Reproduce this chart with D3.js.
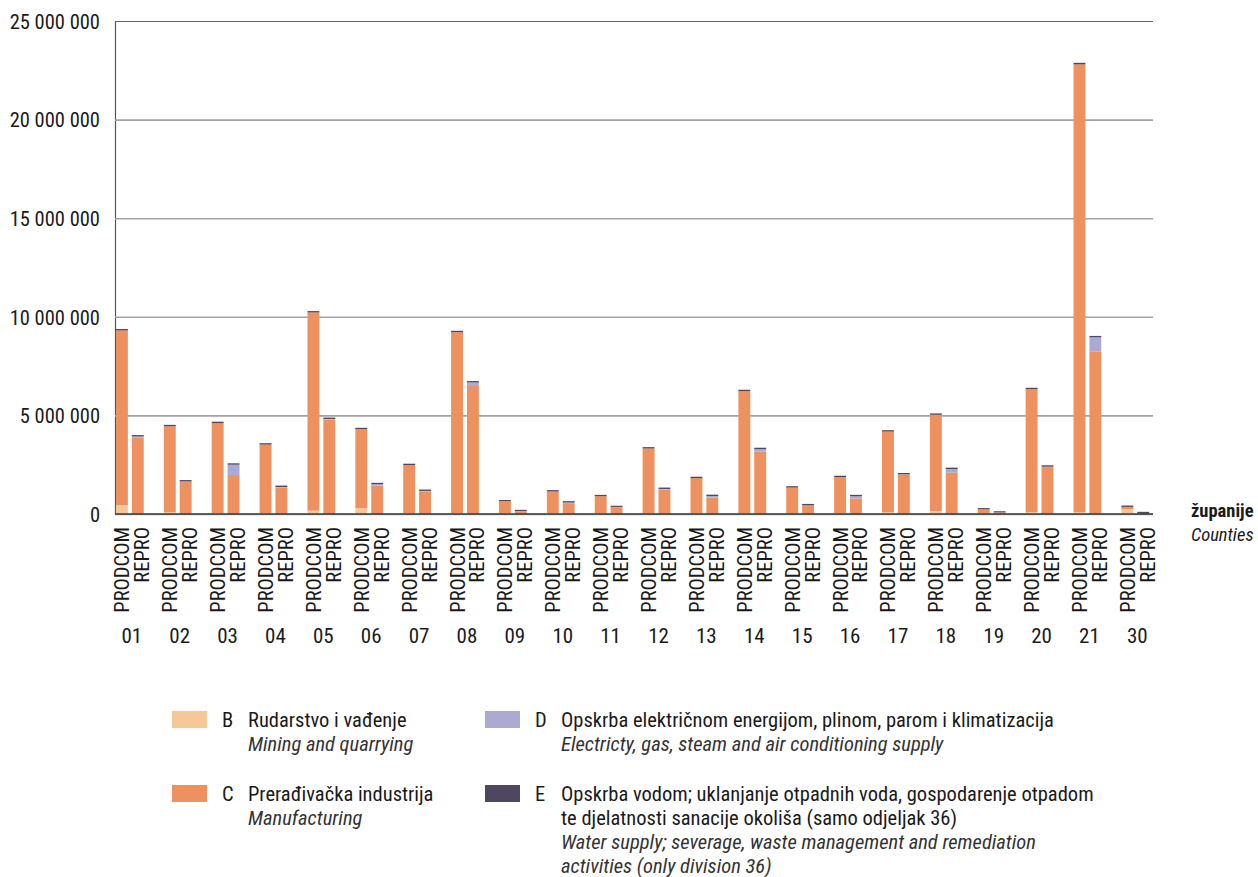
<!DOCTYPE html>
<html>
<head>
<meta charset="utf-8">
<script src="https://cdn.jsdelivr.net/npm/d3@7"></script>
<style>
  body { margin: 0; background: #fff; }
  svg text { font-family: "Roboto Condensed", Roboto, "Liberation Sans", sans-serif; fill: #1a1a1a; }
</style>
</head>
<body>
<div class="chart-container"></div>
<script>
// data (values in millions)
const counties = ['01','02','03','04','05','06','07','08','09','10','11','12','13','14','15','16','17','18','19','20','21','30'];
const sources = ['PRODCOM', 'REPRO'];
const sections = ['B', 'C', 'D', 'E'];

const prodB = [0.45, 0.10, 0.05, 0.03, 0.17, 0.30, 0.05, 0.05, 0.02, 0.03, 0.02, 0.03, 0.03, 0.03, 0.02, 0.03, 0.10, 0.15, 0.02, 0.10, 0.10, 0.24];
const prodC = [8.86, 4.35, 4.56, 3.49, 10.05, 4.00, 2.43, 9.17, 0.63, 1.11, 0.88, 3.29, 1.79, 6.20, 1.32, 1.84, 4.08, 4.88, 0.22, 6.23, 22.70, 0.12];
const prodD = [0.00, 0.00, 0.00, 0.00, 0.00, 0.00, 0.00, 0.00, 0.00, 0.00, 0.00, 0.00, 0.00, 0.00, 0.00, 0.00, 0.00, 0.00, 0.00, 0.00, 0.00, 0.00];
const prodE = [0.07, 0.07, 0.07, 0.07, 0.07, 0.07, 0.07, 0.07, 0.06, 0.07, 0.07, 0.07, 0.07, 0.07, 0.07, 0.07, 0.07, 0.07, 0.06, 0.07, 0.08, 0.07];

const reproB = [0.00, 0.00, 0.00, 0.00, 0.00, 0.00, 0.00, 0.00, 0.00, 0.00, 0.00, 0.00, 0.00, 0.00, 0.00, 0.00, 0.00, 0.00, 0.00, 0.00, 0.00, 0.00];
const reproC = [3.88, 1.62, 1.98, 1.35, 4.80, 1.44, 1.15, 6.49, 0.14, 0.51, 0.35, 1.24, 0.83, 3.16, 0.43, 0.78, 1.99, 2.09, 0.07, 2.38, 8.25, 0.02];
const reproD = [0.05, 0.03, 0.52, 0.02, 0.02, 0.07, 0.02, 0.18, 0.01, 0.07, 0.01, 0.03, 0.08, 0.13, 0.01, 0.12, 0.02, 0.19, 0.01, 0.02, 0.71, 0.00];
const reproE = [0.07, 0.07, 0.07, 0.07, 0.07, 0.07, 0.07, 0.07, 0.06, 0.07, 0.06, 0.07, 0.07, 0.07, 0.07, 0.07, 0.07, 0.07, 0.06, 0.07, 0.07, 0.09];

const yTicks = [0, 5, 10, 15, 20, 25];

const colors = { B: '#f6c797', C: '#ec915f', D: '#abaad3', E: '#4f4660' };

const legendItems = [
    { key: 'B', hr: ['Rudarstvo i vađenje'], en: ['Mining and quarrying'] },
    { key: 'C', hr: ['Prerađivačka industrija'], en: ['Manufacturing'] },
    { key: 'D', hr: ['Opskrba električnom energijom, plinom, parom i klimatizacija'], en: ['Electricty, gas, steam and air conditioning supply'] },
    { key: 'E', hr: ['Opskrba vodom; uklanjanje otpadnih voda, gospodarenje otpadom', 'te djelatnosti sanacije okoliša (samo odjeljak 36)'],
      en: ['Water supply; severage, waste management and remediation', 'activities (only division 36)'] }
];

// build rows for stacking
const rows = [];
counties.forEach((c, i) => {
    rows.push({ county: c, source: 'PRODCOM', B: prodB[i], C: prodC[i], D: prodD[i], E: prodE[i] });
    rows.push({ county: c, source: 'REPRO', B: reproB[i], C: reproC[i], D: reproD[i], E: reproE[i] });
});

const width = 1258;
const height = 877;
const plot = { left: 115, right: 1153, top: 21, bottom: 514 };

const svg = d3.select('.chart-container')
    .append('svg')
    .attr('width', width)
    .attr('height', height);

// scales
const xGroup = d3.scaleBand()
    .domain(counties)
    .range([plot.left, plot.right])
    .paddingInner(0.42)
    .paddingOuter(0.05)
    .align(0.2);

const xSource = d3.scaleBand()
    .domain(sources)
    .range([0, xGroup.bandwidth()])
    .paddingInner(0.25);

const yScale = d3.scaleLinear()
    .domain([0, 25])
    .range([plot.bottom, plot.top]);

// grid lines
const yAxis = d3.axisLeft(yScale)
    .tickValues(yTicks)
    .tickSizeInner(-(plot.right - plot.left))
    .tickSizeOuter(0)
    .tickPadding(15)
    .tickFormat(d => d3.format(',')(d * 1e6).replace(/,/g, ' '));

const yAxisDraw = svg.append('g')
    .attr('class', 'y axis')
    .attr('transform', `translate(${plot.left}, 0)`)
    .call(yAxis);

yAxisDraw.select('.domain').attr('stroke', '#555').attr('stroke-width', 1.2);
yAxisDraw.selectAll('.tick line')
    .attr('stroke', d => d === 25 ? '#666' : '#a3a3a3')
    .attr('stroke-width', d => d === 25 ? 1.2 : 1.6);
yAxisDraw.selectAll('.tick text')
    .attr('font-size', 20.5)
    .attr('dy', '0.36em')
    .style('fill', '#1a1a1a');

// stacked bars
const stack = d3.stack().keys(sections);
const series = stack(rows);

svg.append('g')
    .attr('class', 'bars')
    .selectAll('g')
    .data(series)
    .join('g')
    .attr('fill', d => colors[d.key])
    .selectAll('rect')
    .data(d => d)
    .join('rect')
    .attr('x', d => xGroup(d.data.county) + xSource(d.data.source))
    .attr('width', xSource.bandwidth())
    .attr('y', d => yScale(d[1]))
    .attr('height', d => Math.max(0, yScale(d[0]) - yScale(d[1])));

// baseline
svg.append('line')
    .attr('x1', plot.left)
    .attr('x2', plot.right)
    .attr('y1', yScale(0))
    .attr('y2', yScale(0))
    .attr('stroke', '#3a3a3a')
    .attr('stroke-width', 1.6);

// category labels (rotated), REPRO label sits a bit right of its bar
const labelShift = { PRODCOM: 7.5, REPRO: 11.5 };
const catLabels = svg.append('g').attr('class', 'x labels');

rows.forEach(r => {
    const cx = xGroup(r.county) + xSource(r.source) + xSource.bandwidth() / 2;
    catLabels.append('text')
        .attr('transform', `translate(${cx + labelShift[r.source]}, 527) rotate(-90)`)
        .attr('text-anchor', 'end')
        .attr('font-size', 20.5)
        .text(r.source);
});

svg.append('g')
    .attr('class', 'county labels')
    .selectAll('text')
    .data(counties)
    .join('text')
    .attr('x', d => xGroup(d) + xGroup.bandwidth() / 2 + 2)
    .attr('y', 643)
    .attr('text-anchor', 'middle')
    .attr('font-size', 21)
    .text(d => d);

// axis title
svg.append('text')
    .attr('x', 1191)
    .attr('y', 517)
    .attr('font-size', 18.5)
    .attr('font-weight', 'bold')
    .text('županije');

svg.append('text')
    .attr('x', 1191)
    .attr('y', 541)
    .attr('font-size', 18.5)
    .attr('font-style', 'italic')
    .text('Counties');

// legend
const legendPos = {
    B: [172, 711], C: [172, 785], D: [485, 711], E: [485, 785]
};

legendItems.forEach(item => {
    const [lx, ly] = legendPos[item.key];
    const g = svg.append('g').attr('transform', `translate(${lx}, ${ly})`);
    g.append('rect')
        .attr('width', 35)
        .attr('height', 17)
        .attr('fill', colors[item.key]);
    g.append('text')
        .attr('x', 50)
        .attr('y', 16)
        .attr('font-size', 20.5)
        .text(item.key);
    const lines = item.hr.map(t => ({ t, italic: false })).concat(item.en.map(t => ({ t, italic: true })));
    lines.forEach((l, i) => {
        g.append('text')
            .attr('x', 76)
            .attr('y', 16 + i * 24)
            .attr('font-size', 20.5)
            .attr('font-style', l.italic ? 'italic' : 'normal')
            .style('fill', l.italic ? '#333' : '#1a1a1a')
            .text(l.t);
    });
});
</script>
</body>
</html>
